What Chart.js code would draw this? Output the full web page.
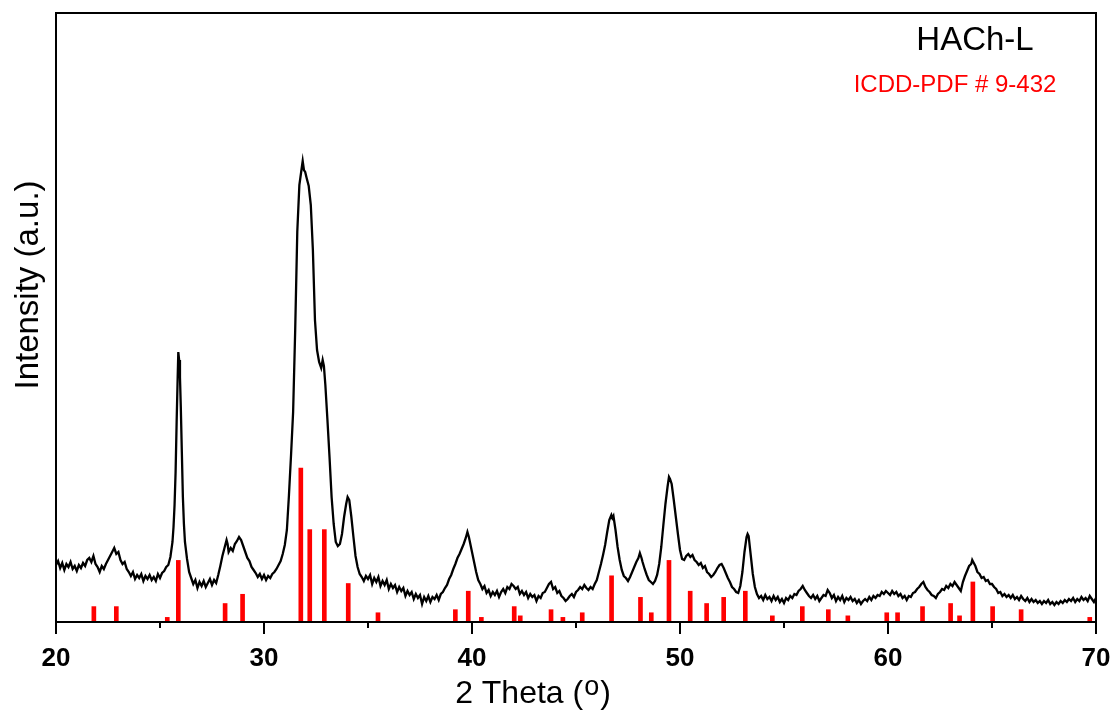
<!DOCTYPE html>
<html>
<head>
<meta charset="utf-8">
<title>HACh-L XRD</title>
<script src="https://cdn.jsdelivr.net/npm/chart.js@4/dist/chart.umd.min.js"></script>
<style>
  html, body { margin: 0; padding: 0; background: #ffffff; }
  #wrap { position: relative; width: 1113px; height: 711px; }
</style>
</head>
<body>
<div id="wrap"><canvas id="xrd" width="1113" height="711"></canvas></div>
<script>
// Measured diffraction pattern of HACh-L (2θ in degrees, intensity in a.u.)
const twoTheta = [
  20.0, 20.1, 20.2, 20.3, 20.4, 20.5, 20.6, 20.7, 20.8, 20.9, 21.0, 21.1, 21.2, 21.3, 21.4, 21.5,
  21.6, 21.7, 21.8, 21.9, 22.0, 22.1, 22.2, 22.3, 22.4, 22.5, 22.6, 22.7, 22.8, 22.9, 23.0, 23.1,
  23.2, 23.3, 23.4, 23.5, 23.6, 23.7, 23.8, 23.9, 24.0, 24.1, 24.2, 24.3, 24.4, 24.5, 24.6, 24.7,
  24.8, 24.9, 25.0, 25.1, 25.2, 25.3, 25.4, 25.5, 25.6, 25.65, 25.7, 25.75, 25.8, 25.85, 25.88, 25.92,
  25.96, 26.0, 26.05, 26.1, 26.15, 26.2, 26.3, 26.4, 26.5, 26.6, 26.7, 26.8, 26.9, 27.0, 27.1, 27.2,
  27.3, 27.4, 27.5, 27.6, 27.7, 27.8, 27.9, 28.0, 28.1, 28.2, 28.25, 28.3, 28.4, 28.5, 28.6, 28.7,
  28.8, 28.9, 29.0, 29.1, 29.2, 29.3, 29.4, 29.5, 29.6, 29.7, 29.8, 29.9, 30.0, 30.1, 30.2, 30.3,
  30.4, 30.5, 30.6, 30.7, 30.8, 30.9, 31.0, 31.1, 31.2, 31.3, 31.4, 31.5, 31.6, 31.7, 31.8, 31.86,
  31.92, 31.98, 32.05, 32.15, 32.25, 32.35, 32.45, 32.55, 32.65, 32.75, 32.82, 32.88, 32.95, 33.05, 33.15, 33.25,
  33.35, 33.45, 33.55, 33.65, 33.75, 33.85, 33.95, 34.02, 34.1, 34.2, 34.3, 34.4, 34.5, 34.6, 34.7, 34.8,
  34.9, 35.0, 35.1, 35.2, 35.3, 35.4, 35.5, 35.6, 35.7, 35.8, 35.9, 36.0, 36.1, 36.2, 36.3, 36.4,
  36.5, 36.6, 36.7, 36.8, 36.9, 37.0, 37.1, 37.2, 37.3, 37.4, 37.5, 37.6, 37.7, 37.8, 37.9, 38.0,
  38.1, 38.2, 38.3, 38.4, 38.5, 38.6, 38.7, 38.8, 38.9, 39.0, 39.1, 39.2, 39.3, 39.4, 39.5, 39.6,
  39.7, 39.78, 39.85, 39.9, 40.0, 40.1, 40.2, 40.3, 40.4, 40.5, 40.6, 40.7, 40.8, 40.9, 41.0, 41.1,
  41.2, 41.3, 41.4, 41.5, 41.6, 41.7, 41.8, 41.9, 42.0, 42.1, 42.2, 42.3, 42.4, 42.5, 42.6, 42.7,
  42.8, 42.9, 43.0, 43.1, 43.2, 43.3, 43.4, 43.5, 43.6, 43.7, 43.8, 43.9, 44.0, 44.1, 44.2, 44.3,
  44.4, 44.5, 44.6, 44.7, 44.8, 44.9, 45.0, 45.1, 45.2, 45.3, 45.4, 45.5, 45.6, 45.7, 45.8, 45.9,
  46.0, 46.1, 46.2, 46.3, 46.4, 46.5, 46.6, 46.7, 46.75, 46.8, 46.9, 47.0, 47.1, 47.2, 47.3, 47.4,
  47.5, 47.6, 47.7, 47.8, 47.9, 48.0, 48.07, 48.15, 48.2, 48.3, 48.4, 48.5, 48.6, 48.7, 48.8, 48.9,
  49.0, 49.1, 49.2, 49.3, 49.4, 49.47, 49.52, 49.6, 49.7, 49.8, 49.9, 50.0, 50.1, 50.2, 50.3, 50.4,
  50.5, 50.6, 50.7, 50.8, 50.9, 51.0, 51.1, 51.2, 51.3, 51.4, 51.5, 51.6, 51.7, 51.8, 51.9, 52.0,
  52.1, 52.2, 52.3, 52.4, 52.5, 52.6, 52.7, 52.8, 52.9, 53.0, 53.1, 53.2, 53.25, 53.3, 53.4, 53.5,
  53.6, 53.7, 53.8, 53.9, 54.0, 54.1, 54.2, 54.3, 54.4, 54.5, 54.6, 54.7, 54.8, 54.9, 55.0, 55.1,
  55.2, 55.3, 55.4, 55.5, 55.6, 55.7, 55.8, 55.9, 56.0, 56.1, 56.2, 56.3, 56.4, 56.5, 56.6, 56.7,
  56.8, 56.9, 57.0, 57.1, 57.2, 57.3, 57.4, 57.5, 57.6, 57.7, 57.8, 57.9, 58.0, 58.1, 58.2, 58.3,
  58.4, 58.5, 58.6, 58.7, 58.8, 58.9, 59.0, 59.1, 59.2, 59.3, 59.4, 59.5, 59.6, 59.7, 59.8, 59.9,
  60.0, 60.1, 60.2, 60.3, 60.4, 60.5, 60.6, 60.7, 60.8, 60.9, 61.0, 61.1, 61.2, 61.3, 61.4, 61.5,
  61.6, 61.7, 61.8, 61.9, 62.0, 62.1, 62.2, 62.3, 62.4, 62.5, 62.6, 62.7, 62.8, 62.9, 63.0, 63.1,
  63.2, 63.3, 63.4, 63.5, 63.6, 63.7, 63.8, 63.9, 64.0, 64.05, 64.1, 64.2, 64.3, 64.4, 64.5, 64.6,
  64.7, 64.8, 64.9, 65.0, 65.1, 65.2, 65.3, 65.4, 65.5, 65.6, 65.7, 65.8, 65.9, 66.0, 66.1, 66.2,
  66.3, 66.4, 66.5, 66.6, 66.7, 66.8, 66.9, 67.0, 67.1, 67.2, 67.3, 67.4, 67.5, 67.6, 67.7, 67.8,
  67.9, 68.0, 68.1, 68.2, 68.3, 68.4, 68.5, 68.6, 68.7, 68.8, 68.9, 69.0, 69.1, 69.2, 69.3, 69.4,
  69.5, 69.6, 69.7, 69.8, 69.9, 70.0
];
const intensity = [
  57, 61, 54, 59, 52, 58, 55, 60, 53, 56, 51, 57, 54, 59, 56, 62,
  64, 60, 66, 58, 55, 50, 56, 53, 58, 62, 66, 70, 74, 68, 70, 62,
  58, 60, 53, 50, 46, 50, 43, 47, 44, 48, 41, 46, 43, 47, 42, 45,
  41, 48, 44, 49, 51, 55, 57, 65, 80, 95, 117, 150, 200, 245, 270, 262,
  245, 215, 170, 125, 98, 80, 63, 50, 44, 38, 42, 34, 40, 36, 41, 35,
  39, 43, 37, 42, 39, 47, 56, 66, 74, 82, 78, 70, 74, 71, 78, 81,
  85, 82, 76, 70, 64, 61, 55, 52, 49, 45, 48, 43, 47, 42, 46, 44,
  48, 50, 53, 57, 61, 68, 77, 92, 127, 167, 210, 292, 390, 437, 452, 461,
  452, 450, 444, 436, 417, 372, 302, 272, 260, 254, 262, 256, 237, 202, 165, 125,
  98, 80, 76, 78, 88, 105, 118, 125, 122, 105, 85, 66, 55, 48, 45, 41,
  46, 43, 47, 38, 44, 40, 45, 36, 41, 37, 42, 33, 38, 34, 37, 30,
  35, 31, 34, 26, 31, 27, 30, 23, 28, 24, 27, 18, 25, 21, 26, 20,
  25, 23, 27, 22, 28, 30, 34, 37, 43, 47, 53, 58, 64, 68, 73, 78,
  84, 90, 85, 80, 70, 60, 50, 42, 38, 33, 36, 29, 32, 26, 30, 27,
  31, 25, 30, 33, 29, 35, 33, 38, 36, 33, 35, 28, 31, 27, 30, 24,
  28, 25, 27, 21, 26, 24, 29, 30, 34, 38, 40, 33, 35, 29, 31, 26,
  24, 21, 23, 26, 28, 25, 30, 32, 35, 33, 37, 34, 32, 35, 33, 38,
  42, 50, 58, 67, 77, 90, 102, 107, 104, 106, 92, 75, 62, 52, 46, 44,
  41, 45, 50, 55, 60, 64, 69, 64, 60, 53, 47, 42, 40, 38, 41, 47,
  58, 75, 97, 118, 135, 145, 143, 138, 122, 105, 88, 72, 63, 62, 66, 68,
  65, 67, 62, 60, 57, 59, 54, 56, 50, 48, 45, 47, 50, 54, 57, 58,
  54, 49, 44, 40, 35, 33, 30, 29, 36, 50, 70, 85, 88, 86, 67, 48,
  35, 28, 24, 26, 22, 27, 23, 25, 21, 26, 22, 25, 20, 23, 19, 24,
  22, 26, 24, 28, 27, 31, 33, 36, 32, 29, 26, 24, 27, 23, 26, 21,
  24, 27, 26, 32, 29, 24, 27, 21, 25, 22, 26, 20, 24, 22, 25, 21,
  23, 19, 22, 18, 21, 23, 21, 25, 22, 26, 24, 27, 26, 30, 28, 31,
  29, 27, 31, 28, 30, 26, 28, 24, 26, 22, 26, 25, 29, 30, 33, 35,
  38, 40, 35, 32, 30, 27, 26, 24, 28, 30, 33, 32, 36, 34, 38, 36,
  40, 37, 34, 31, 40, 46, 51, 56, 58, 62, 60, 56, 50, 48, 44, 45,
  41, 42, 38, 38, 35, 33, 29, 30, 26, 28, 25, 27, 24, 27, 23, 25,
  22, 26, 23, 21, 24, 20, 23, 20, 22, 19, 21, 18, 21, 19, 22, 18,
  20, 17, 20, 18, 21, 19, 22, 20, 23, 21, 24, 20, 23, 21, 25, 22,
  24, 21, 26, 23, 20, 24
];

// ICDD-PDF # 9-432 reference lines (2θ in degrees, relative intensity in %)
const refTwoTheta = [
  21.82, 22.90, 25.35, 25.88, 28.13, 28.97, 31.77, 32.20, 32.90, 34.05, 35.48, 39.20, 39.82,
  40.45, 42.03, 42.32, 43.80, 44.37, 45.30, 46.71, 48.10, 48.62, 49.47, 50.49, 51.28, 52.10,
  53.14, 54.44, 55.88, 57.13, 58.07, 59.94, 60.46, 61.66, 63.01, 63.44, 64.08, 65.03, 66.40, 69.70
];
const refIntensity = [
  10, 10, 3, 40, 12, 18, 100, 60, 60, 25, 6, 8, 20,
  3, 10, 4, 8, 3, 6, 30, 16, 6, 40, 20, 12, 16,
  20, 4, 10, 8, 4, 6, 6, 10, 12, 4, 26, 10, 8, 3
];

// Axis ticks
const xTicks = [20, 30, 40, 50, 60, 70];
const xMinorTicks = [25, 35, 45, 55, 65];
const sampleLabel = 'HACh-L';
const refLabel = 'ICDD-PDF # 9-432';

const measured = twoTheta.map((t, i) => ({ x: t, y: intensity[i] }));
const refLines = refTwoTheta.map((t, i) => ({ x: t, y: refIntensity[i] }));

const FONT = '"Liberation Sans", Arial, Helvetica, sans-serif';

// Frame, tick marks, axis titles and labels
const decorations = {
  id: 'decorations',
  afterDraw(chart) {
    const { ctx, chartArea: a, scales } = chart;
    const xs = scales.x;
    ctx.save();
    ctx.strokeStyle = '#000';
    ctx.lineWidth = 2;
    ctx.strokeRect(a.left, a.top, a.right - a.left, a.bottom - a.top);

    ctx.beginPath();
    xTicks.forEach(v => {
      const px = Math.round(xs.getPixelForValue(v));
      ctx.moveTo(px, a.bottom);
      ctx.lineTo(px, a.bottom + 12);
    });
    xMinorTicks.forEach(v => {
      const px = Math.round(xs.getPixelForValue(v));
      ctx.moveTo(px, a.bottom);
      ctx.lineTo(px, a.bottom + 6);
    });
    ctx.stroke();

    ctx.fillStyle = '#000';
    ctx.textBaseline = 'alphabetic';
    ctx.textAlign = 'left';
    // x-axis title: 2 Theta (°) with a raised o
    const p1 = '2 Theta (';
    const p3 = ')';
    ctx.font = '32px ' + FONT;
    const w1 = ctx.measureText(p1).width;
    const w3 = ctx.measureText(p3).width;
    ctx.font = '27px ' + FONT;
    const w2 = ctx.measureText('o').width;
    const total = w1 + w2 + w3 + 2;
    const sx = 533 - total / 2;
    const by = 703;
    ctx.font = '32px ' + FONT;
    ctx.fillText(p1, sx, by);
    ctx.font = '27px ' + FONT;
    ctx.fillText('o', sx + w1 + 1, by - 8);
    ctx.font = '32px ' + FONT;
    ctx.fillText(p3, sx + w1 + w2 + 2, by);

    // y-axis title
    ctx.save();
    ctx.translate(29, 285);
    ctx.rotate(-Math.PI / 2);
    ctx.textAlign = 'center';
    ctx.textBaseline = 'middle';
    ctx.font = '33px ' + FONT;
    ctx.fillText('Intensity (a.u.)', 0, 0);
    ctx.restore();

    // sample and reference labels
    ctx.textAlign = 'center';
    ctx.textBaseline = 'alphabetic';
    ctx.font = '33px ' + FONT;
    ctx.fillStyle = '#000';
    ctx.fillText(sampleLabel, 975, 50);
    ctx.font = '24px ' + FONT;
    ctx.fillStyle = '#ff0000';
    ctx.fillText(refLabel, 955, 92);
    ctx.restore();
  }
};

new Chart(document.getElementById('xrd'), {
  type: 'line',
  data: {
    datasets: [
      {
        label: sampleLabel,
        data: measured,
        borderColor: '#000000',
        borderWidth: 2.3,
        pointRadius: 0,
        tension: 0,
        fill: false,
        yAxisID: 'y',
        order: 1
      },
      {
        type: 'bar',
        label: refLabel,
        data: refLines,
        backgroundColor: '#ff0000',
        borderWidth: 0,
        barThickness: 4,
        grouped: false,
        yAxisID: 'yRef',
        order: 2
      }
    ]
  },
  options: {
    responsive: false,
    animation: false,
    events: [],
    layout: { padding: { left: 56, top: 13, right: 17, bottom: 0 } },
    plugins: { legend: { display: false }, tooltip: { enabled: false } },
    scales: {
      x: {
        type: 'linear',
        min: 20,
        max: 70,
        offset: false,
        afterBuildTicks(scale) { scale.ticks = xTicks.map(v => ({ value: v })); },
        afterFit(scale) {
          scale.height = 89;
          // end labels may overhang the plot edges
          scale.paddingLeft = 0;
          scale.paddingRight = 0;
        },
        border: { display: false },
        grid: { display: false, drawTicks: false },
        ticks: {
          color: '#000',
          padding: 21,
          maxRotation: 0,
          font: { family: FONT, size: 26, weight: 'bold' }
        }
      },
      y: { display: false, min: 0, max: 609 },
      yRef: { display: false, min: 0, max: 395.5 }
    }
  },
  plugins: [decorations]
});
</script>
</body>
</html>
